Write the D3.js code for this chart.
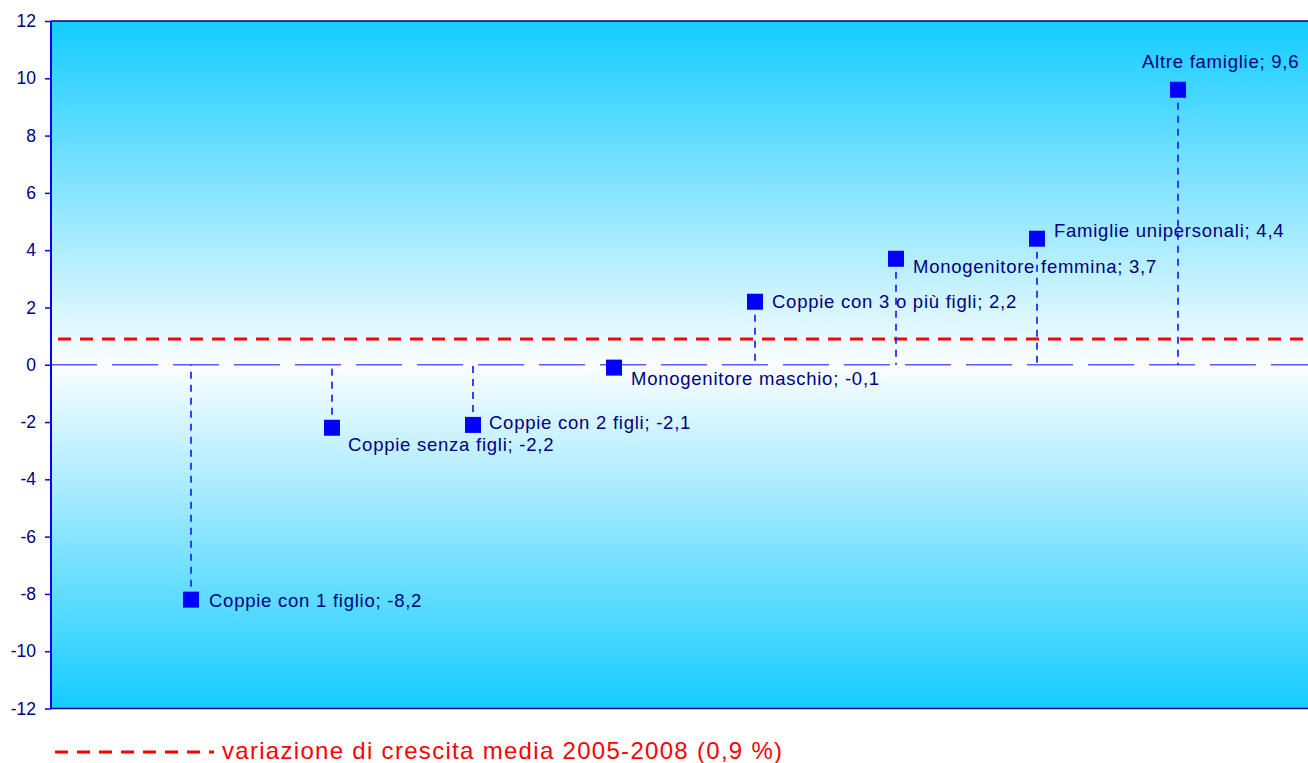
<!DOCTYPE html>
<html><head><meta charset="utf-8">
<script src="https://cdn.jsdelivr.net/npm/d3@7"></script>
<style>body{margin:0;background:#fff}svg{display:block;font-family:"Liberation Sans",Arial,sans-serif}</style>
</head><body><svg id="c" width="1308" height="763"></svg>
<script>
const categories = ["Coppie con 1 figlio","Coppie senza figli","Coppie con 2 figli","Monogenitore maschio","Coppie con 3 o più figli","Monogenitore femmina","Famiglie unipersonali","Altre famiglie"];
const values = [-8.2,-2.2,-2.1,-0.1,2.2,3.7,4.4,9.6];
const valueLabels = ["-8,2","-2,2","-2,1","-0,1","2,2","3,7","4,4","9,6"];
const yTicks = [-12,-10,-8,-6,-4,-2,0,2,4,6,8,10,12];
const average = 0.9;
const legendText = "variazione di crescita media 2005-2008 (0,9 %)";

// label offsets from marker centre (layout only)
const labelOffsets = [[18,7],[16,23],[16,4],[17,17],[17,6],[17,14],[17,-2],[-36,-22]];

(function(){
const svg = d3.select("#c");
const pLeft = 51, pTop = 21, pBottom = 708.5;
const x = d3.scaleLinear().domain([0, 9]).range([50, 1319]);
const y = d3.scaleLinear().domain([-12, 12]).range([pBottom, pTop]);

const defs = svg.append("defs");
const g = defs.append("linearGradient").attr("id","bg").attr("x1",0).attr("x2",0).attr("y1",0).attr("y2",1);
g.append("stop").attr("offset","0%").attr("stop-color","#14ccff");
g.append("stop").attr("offset","50%").attr("stop-color","#fbfdff");
g.append("stop").attr("offset","100%").attr("stop-color","#14ccff");

svg.append("rect").attr("x",pLeft).attr("y",pTop).attr("width",1308-pLeft).attr("height",pBottom-pTop).attr("fill","url(#bg)");
svg.append("line").attr("x1",pLeft).attr("x2",1308).attr("y1",pTop).attr("y2",pTop).attr("stroke","#000080").attr("stroke-width",1.5);
svg.append("line").attr("x1",pLeft).attr("x2",1308).attr("y1",pBottom).attr("y2",pBottom).attr("stroke","#000080").attr("stroke-width",1.5);

svg.append("line").attr("x1",pLeft).attr("x2",1308).attr("y1",y(0)).attr("y2",y(0))
  .attr("stroke","#5c5cff").attr("stroke-width",1.6).attr("stroke-dasharray","46,15");

svg.append("line").attr("x1",58).attr("x2",1308).attr("y1",y(average)).attr("y2",y(average))
  .attr("stroke","#ff0000").attr("stroke-width",3).attr("stroke-dasharray","13,9");

const ax = svg.append("g").attr("transform",`translate(${pLeft},0)`)
  .call(d3.axisLeft(y).tickValues(yTicks).tickSize(6).tickPadding(9).tickFormat(d=>String(d)));
ax.select(".domain").attr("stroke","#0000ff").attr("stroke-width",2).attr("d",`M0,${pTop}V${pBottom}`);
ax.selectAll(".tick line").attr("stroke","#0000ff").attr("stroke-width",1.5);
ax.selectAll(".tick text").attr("fill","#000080").attr("font-size","17.5px").attr("font-family","Liberation Sans, Arial, sans-serif");

const data = categories.map((c,i)=>({c, v:values[i], lbl:valueLabels[i], o:labelOffsets[i], i}));

svg.append("g").selectAll("line").data(data).join("line")
  .attr("x1",d=>x(d.i+1)).attr("x2",d=>x(d.i+1))
  .attr("y1",d=>y(d.v)).attr("y2",y(0))
  .attr("stroke","#2a2aff").attr("stroke-width",1.8).attr("stroke-dasharray","7,6");

svg.append("g").selectAll("rect").data(data).join("rect")
  .attr("x",d=>x(d.i+1)-8).attr("y",d=>y(d.v)-8).attr("width",16).attr("height",16).attr("fill","#0000ff");

svg.append("g").selectAll("text").data(data).join("text")
  .attr("x",d=>x(d.i+1)+d.o[0])
  .attr("y",d=>y(d.v)+d.o[1])
  .attr("fill","#000080").attr("font-size","18.5px").attr("letter-spacing","0.75px")
  .text(d=>`${d.c}; ${d.lbl}`);

svg.append("line").attr("x1",55).attr("x2",214).attr("y1",752).attr("y2",752)
  .attr("stroke","#ff0000").attr("stroke-width",3).attr("stroke-dasharray","13,9");
svg.append("text").attr("x",222).attr("y",759).attr("fill","#ff0000").attr("font-size","24px").attr("letter-spacing","1.3px").text(legendText);
})();
</script></body></html>
